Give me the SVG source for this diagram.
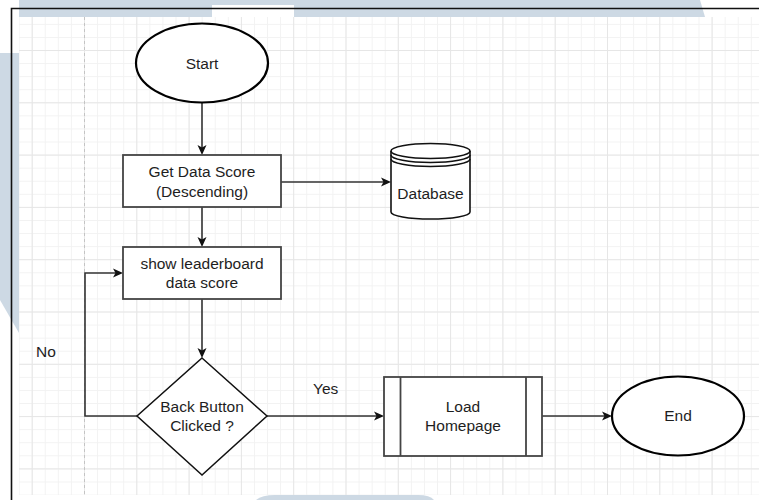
<svg xmlns="http://www.w3.org/2000/svg" width="759" height="500" viewBox="0 0 759 500">
  <defs>
    <style>
      .lbl { font-family: "Liberation Sans", Arial, sans-serif; font-size: 15.5px; fill: #1e1e1e; text-anchor: middle; }
      .free { font-family: "Liberation Sans", Arial, sans-serif; font-size: 15.5px; fill: #1e1e1e; }
      .term { fill: #ffffff; stroke: #000000; stroke-width: 2.2; }
      .proc { fill: #ffffff; stroke: #444444; stroke-width: 1.8; }
      .dec { fill: #ffffff; stroke: #111111; stroke-width: 1.5; }
      .edge { fill: none; stroke: #333333; stroke-width: 1.6; marker-end: url(#arrow); }
      .mark { fill: #cdd9e4; }
    </style>
    <marker id="arrow" viewBox="0 0 10 10" markerUnits="userSpaceOnUse" markerWidth="10" markerHeight="10" refX="7" refY="5" orient="auto">
      <path d="M0,0.5 L10,5 L0,9.5 L2.5,5 Z" fill="#111111"/>
    </marker>
    <pattern id="gridMinor" patternUnits="userSpaceOnUse" x="5.55" y="10.8" width="13.075" height="13.075">
      <rect x="0" y="0" width="13.075" height="1" fill="#f2f2f2"/>
      <rect x="0" y="0" width="1" height="13.075" fill="#f2f2f2"/>
    </pattern>
    <pattern id="gridMajor" patternUnits="userSpaceOnUse" x="31.7" y="50" width="52.3" height="52.3">
      <rect x="0" y="0" width="52.3" height="1" fill="#e6e6e6"/>
      <rect x="0" y="0" width="1" height="52.3" fill="#e6e6e6"/>
    </pattern>
  </defs>

  <!-- page background -->
  <rect x="0" y="0" width="759" height="500" fill="#ffffff"/>

  <!-- backdrop shapes -->
  <path class="mark" d="M19,0 L700,0 L705,17 L19,17 Z"/>
  <rect x="212" y="5" width="82" height="12" fill="#ffffff"/>
  <path class="mark" d="M0,53 L19,53 L19,333 L0,300 Z"/>

  <!-- canvas grid -->
  <rect x="19" y="17" width="740" height="478" fill="#ffffff"/>
  <rect x="19" y="17" width="740" height="478" fill="url(#gridMinor)"/>
  <rect x="19" y="17" width="740" height="478" fill="url(#gridMajor)"/>
  <line x1="84.5" y1="17" x2="84.5" y2="495" stroke="#c4c4c4" stroke-width="1" stroke-dasharray="3,3"/>

  <!-- lower backdrop arc -->
  <path class="mark" d="M256,500 Q262,495 275,495 L418,495 Q430,495 434,500 Z"/>

  <!-- window frame -->
  <path d="M11.5,500 L11.5,8.5 L759,8.5" fill="none" stroke="#111111" stroke-width="1.6"/>

  <!-- connectors -->
  <g id="connectors">
    <line class="edge" x1="202" y1="102" x2="202" y2="152"/>
    <line class="edge" x1="202" y1="207" x2="202" y2="244"/>
    <line class="edge" x1="202" y1="299" x2="202" y2="355"/>
    <line class="edge" x1="281" y1="182" x2="388" y2="182"/>
    <polyline class="edge" points="137,416 85,416 85,273 120,273"/>
    <line class="edge" x1="267" y1="416" x2="381" y2="416"/>
    <line class="edge" x1="542" y1="416" x2="609" y2="416"/>
    <text class="free" x="36" y="357">No</text>
    <text class="free" x="313" y="394">Yes</text>
  </g>

  <g id="start">
    <ellipse class="term" cx="202" cy="63" rx="66" ry="39.5"/>
    <text class="lbl" x="202" y="68.5">Start</text>
  </g>

  <g id="get-data-score">
    <rect class="proc" x="123" y="155" width="158" height="52"/>
    <text class="lbl" x="202" y="177">Get Data Score</text>
    <text class="lbl" x="202" y="196.5">(Descending)</text>
  </g>

  <g id="database">
    <path d="M391,151 L391,212 A39.5,7 0 0 0 470,212 L470,151 A39.5,7.5 0 0 0 391,151 Z" fill="#ffffff" stroke="#111111" stroke-width="1.6"/>
    <path d="M391,151 A39.5,7.5 0 0 0 470,151" fill="none" stroke="#111111" stroke-width="1.6"/>
    <path d="M391,155 A39.5,7.5 0 0 0 470,155" fill="none" stroke="#111111" stroke-width="1.6"/>
    <path d="M391,159 A39.5,7.5 0 0 0 470,159" fill="none" stroke="#111111" stroke-width="1.6"/>
    <text class="lbl" x="430.5" y="199">Database</text>
  </g>

  <g id="show-leaderboard">
    <rect class="proc" x="123" y="247" width="158" height="52"/>
    <text class="lbl" x="202" y="268.5">show leaderboard</text>
    <text class="lbl" x="202" y="287.5">data score</text>
  </g>

  <g id="back-button-clicked">
    <polygon class="dec" points="202,358 267,416 202,475 137,416"/>
    <text class="lbl" x="202" y="412">Back Button</text>
    <text class="lbl" x="202" y="430.5">Clicked ?</text>
  </g>

  <g id="load-homepage">
    <rect class="proc" x="384" y="377" width="158" height="79"/>
    <line x1="400.5" y1="377" x2="400.5" y2="456" stroke="#444444" stroke-width="1.8"/>
    <line x1="526" y1="377" x2="526" y2="456" stroke="#444444" stroke-width="1.8"/>
    <text class="lbl" x="463" y="412">Load</text>
    <text class="lbl" x="463" y="431">Homepage</text>
  </g>

  <g id="end">
    <ellipse class="term" cx="678" cy="416" rx="66" ry="39.5"/>
    <text class="lbl" x="678" y="421">End</text>
  </g>
</svg>
